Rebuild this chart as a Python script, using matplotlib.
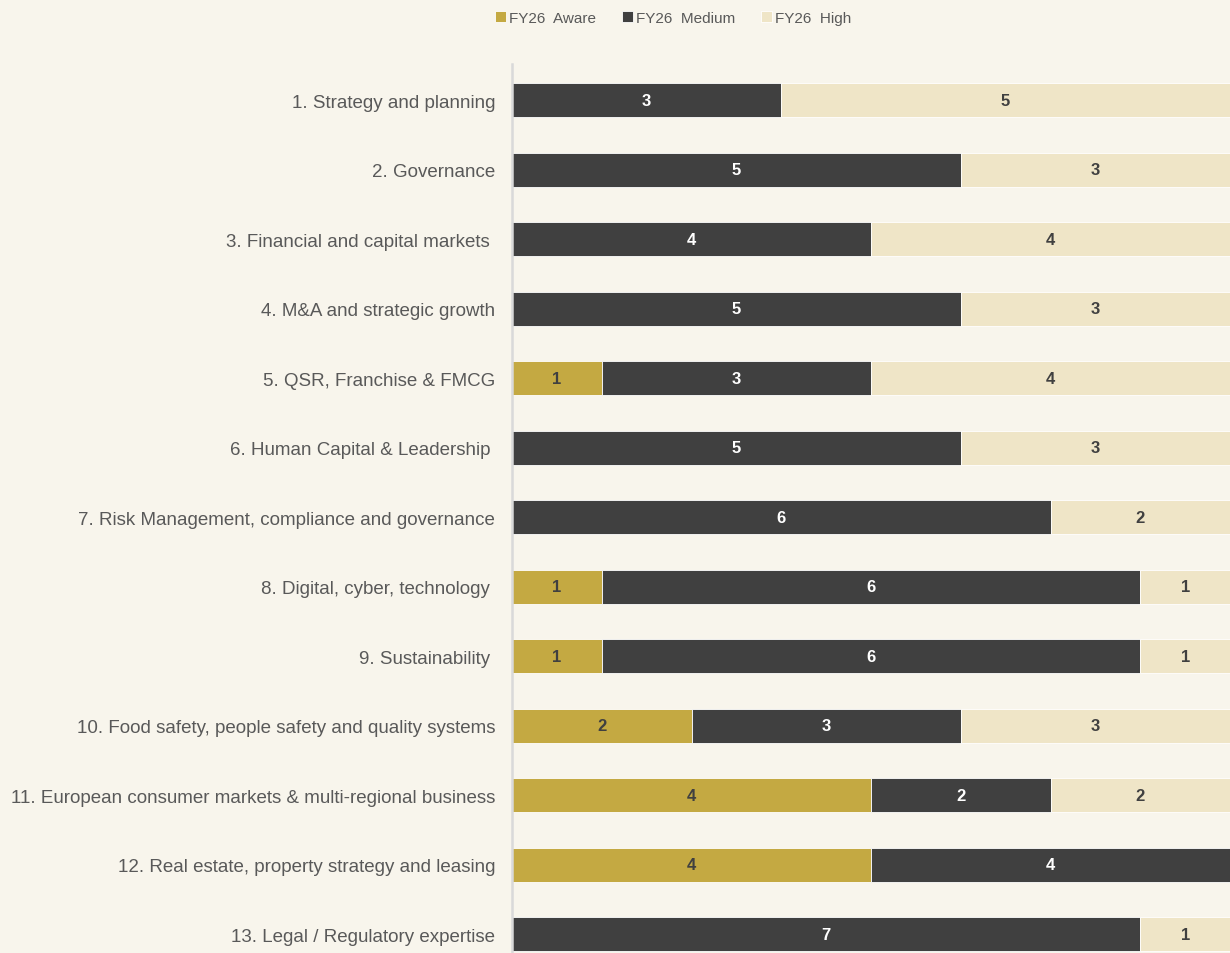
import numpy as np
import matplotlib.pyplot as plt

plt.rcParams['font.family'] = ['Liberation Sans', 'DejaVu Sans']

categories = [
    "1. Strategy and planning",
    "2. Governance",
    "3. Financial and capital markets ",
    "4. M&A and strategic growth",
    "5. QSR, Franchise & FMCG",
    "6. Human Capital & Leadership ",
    "7. Risk Management, compliance and governance",
    "8. Digital, cyber, technology ",
    "9. Sustainability ",
    "10. Food safety, people safety and quality systems",
    "11. European consumer markets & multi-regional business",
    "12. Real estate, property strategy and leasing",
    "13. Legal / Regulatory expertise",
]
aware = [0, 0, 0, 0, 1, 0, 0, 1, 1, 2, 4, 4, 0]
medium = [3, 5, 4, 5, 3, 5, 6, 6, 6, 3, 2, 4, 7]
high = [5, 3, 4, 3, 4, 3, 2, 1, 1, 3, 2, 0, 1]
series_names = ["FY26  Aware", "FY26  Medium", "FY26  High"]

bg = "#F8F5EC"
colors = ["#C4A942", "#404040", "#EFE5C7"]
text_colors = ["#404040", "white", "#404040"]

fig = plt.figure(figsize=(12.3, 9.54), dpi=100, facecolor=bg)
ax = fig.add_axes([512 / 1230, 0, 1 - 512 / 1230, 1 - 65 / 954])
ax.set_facecolor(bg)

y = np.arange(len(categories))
left = np.zeros(len(categories))
handles = []
for vals, name, c, tc in zip([aware, medium, high], series_names, colors, text_colors):
    vals = np.array(vals)
    bars = ax.barh(y, vals, left=left, height=0.49, color=c, edgecolor="white",
                   linewidth=0.6, label=name)
    handles.append(bars)
    for yi, v, l in zip(y, vals, left):
        if v > 0:
            ax.text(l + v / 2, yi, str(v), ha="center", va="center",
                    color=tc, fontsize=12, fontweight="bold")
    left += vals

ax.set_xlim(0, 8)
ax.set_ylim(12.27, -0.52)
ax.set_yticks(y)
ax.set_yticklabels(categories, fontsize=13.5, color="#595959")
ax.tick_params(axis="y", length=0, pad=12)
ax.set_xticks([])
for s in ["top", "right", "bottom"]:
    ax.spines[s].set_visible(False)
ax.spines["left"].set_color("#D9D9D9")
ax.spines["left"].set_linewidth(1.8)

fig.legend(handles=handles, loc="center", bbox_to_anchor=(673 / 1230, 1 - 19 / 954),
           ncol=3, frameon=False, fontsize=11, labelcolor="#595959",
           handlelength=0.7, handleheight=0.7, handletextpad=0.2, columnspacing=1.7)

fig.savefig("out.png", dpi=100, facecolor=bg)
